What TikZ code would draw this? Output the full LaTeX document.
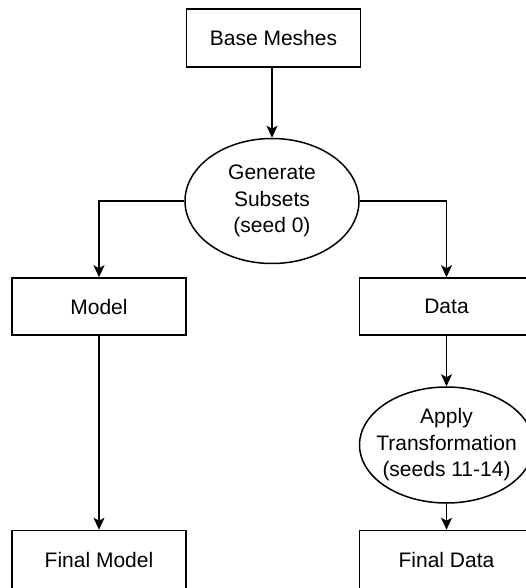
\documentclass[tikz,border=0pt]{standalone}
\usepackage{fontspec}
\setmainfont{Liberation Sans}
\usetikzlibrary{shapes.geometric,arrows.meta}
\begin{document}
\begin{tikzpicture}[x=1pt,y=-1pt,line width=1.5pt,
	every node/.style={font=\fontsize{21}{26.5}\selectfont,align=center,inner sep=0pt},
	box/.style={draw,rectangle,minimum width=174pt,minimum height=58pt},
	oval/.style={draw,ellipse,minimum width=174pt,inner xsep=-20pt},
	arr/.style={-{Stealth[length=12pt,width=11pt,inset=3pt]}}]
		\useasboundingbox (0,0) rectangle (526,588);
		\clip (0,0) rectangle (526,588);
		\node [box] (0) at (273.5, 38) {Base Meshes};
		\node [oval, minimum height=125pt] (1) at (272, 201) {Generate\\Subsets\\(seed 0)};
		\node [box, minimum height=57pt] (2) at (99, 306.5) {Model};
		\node [box, minimum height=57pt] (3) at (446.5, 306.5) {Data};
		\node [oval, minimum height=116pt] (4) at (446.5, 445) {Apply\\Transformation\\(seeds 11-14)};
		\node [box] (5) at (99, 559.5) {Final Model};
		\node [box] (6) at (446.5, 559.5) {Final Data};

		\draw [arr] (0.south -| 1.north) to (1.north);
		\draw [arr] (1.west) -| (2.north);
		\draw [arr] (1.east) -| (3.north);
		\draw [arr] (2.south) to (5.north);
		\draw [arr] (3.south) to (4.north);
		\draw [arr] (4.south) to (6.north);
\end{tikzpicture}
\end{document}
